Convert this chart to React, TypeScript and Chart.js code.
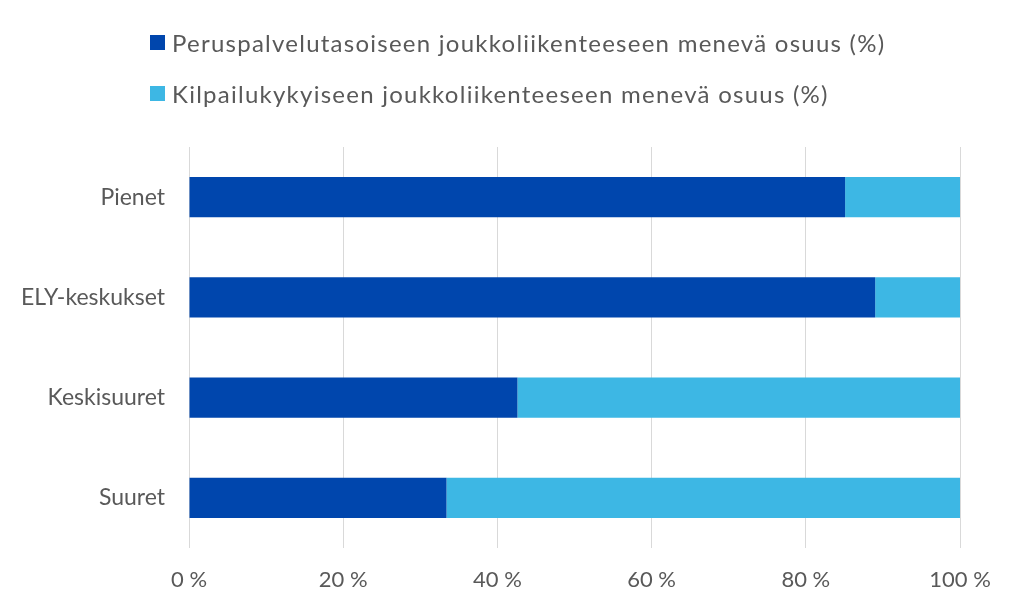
import React, { useEffect, useRef } from "react";
import { Chart, registerables } from "chart.js";

Chart.register(...registerables);

const categories = ["Pienet", "ELY-keskukset", "Keskisuuret", "Suuret"];
const seriesNames = [
  "Peruspalvelutasoiseen joukkoliikenteeseen menevä osuus (%)",
  "Kilpailukykyiseen joukkoliikenteeseen menevä osuus (%)",
];
const basicShare = [85.1, 89.0, 42.6, 33.4];
const competitiveShare = [14.9, 11.0, 57.4, 66.6];
const xTicks = [0, 20, 40, 60, 80, 100];
const colors = ["#0046AD", "#3DB7E4"];

const FONT = "Lato, 'Open Sans', sans-serif";
const TEXT = "#595959";

export default function App() {
  const ref = useRef<HTMLCanvasElement>(null);
  useEffect(() => {
    document.body.style.margin = "0";
    const ctx = ref.current!;
    const chart = new Chart(ctx, {
      type: "bar",
      data: {
        labels: categories,
        datasets: [
          { label: seriesNames[0], data: basicShare, backgroundColor: colors[0], barPercentage: 0.4, categoryPercentage: 1 },
          { label: seriesNames[1], data: competitiveShare, backgroundColor: colors[1], barPercentage: 0.4, categoryPercentage: 1 },
        ],
      },
      options: {
        indexAxis: "y",
        animation: false,
        responsive: false,
        maintainAspectRatio: false,
        layout: { padding: { top: 147, right: 64, bottom: 0, left: 0 } },
        plugins: { legend: { display: false }, tooltip: { enabled: false } },
        scales: {
          x: {
            stacked: true,
            min: 0,
            max: 100,
            afterBuildTicks: (scale: any) => {
              scale.ticks = xTicks.map((v) => ({ value: v }));
            },
            afterFit: (scale: any) => {
              scale.height = 67;
            },
            grid: { color: "#D9D9D9", lineWidth: 1, drawTicks: false },
            border: { display: false },
            ticks: {
              padding: 19,
              color: TEXT,
              font: { family: FONT, size: 22 },
              callback: (v: any) => `${v} %`,
              maxRotation: 0,
            },
          },
          y: {
            stacked: true,
            afterFit: (scale: any) => {
              scale.width = 189;
            },
            grid: { display: false, drawTicks: false },
            border: { display: false },
            ticks: { padding: 24, color: TEXT, font: { family: FONT, size: 23 } },
          },
        },
      },
    });
    return () => chart.destroy();
  }, []);

  return (
    <div style={{ position: "relative", width: 1024, height: 615, background: "#fff" }}>
      <canvas ref={ref} width={1024} height={615} style={{ position: "absolute", left: 0, top: 0 }} />
      <div style={{ position: "absolute", left: 150, top: 26, fontFamily: FONT, fontSize: 24, color: TEXT }}>
        {seriesNames.map((n, i) => (
          <div key={n} style={{ display: "flex", alignItems: "center", height: 32, marginBottom: i === 0 ? 19 : 0 }}>
            <span style={{ display: "inline-block", width: 15, height: 15, background: colors[i], marginRight: 7 }} />
            <span style={{ letterSpacing: "1.25px" }}>{n}</span>
          </div>
        ))}
      </div>
    </div>
  );
}
